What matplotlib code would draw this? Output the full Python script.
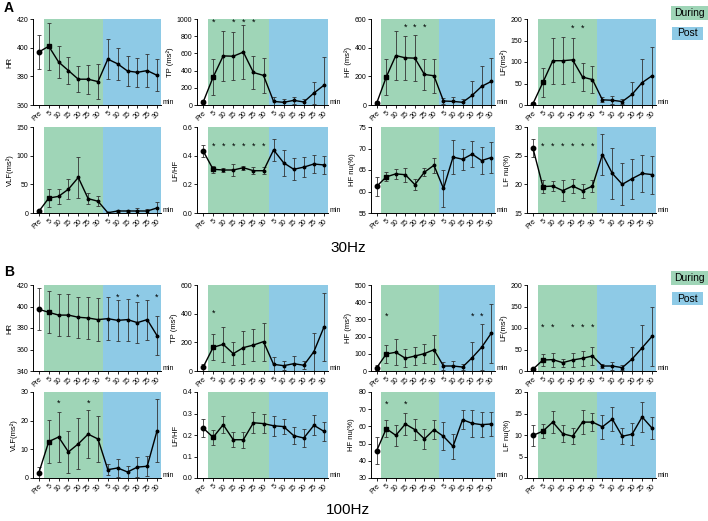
import numpy as np
import matplotlib
matplotlib.use('Agg')
import matplotlib.pyplot as plt
from matplotlib.patches import Rectangle

plt.rcParams['font.family'] = ['Liberation Sans', 'DejaVu Sans']

# x categories (13 time points)
xlabels = ['Pre', '5', '10', '15', '20', '25', '30', '5', '10', '15', '20', '25', '30']

# ---- 30Hz (A) ----
a_hr = [397, 401, 390, 384, 378, 378, 376.3, 392, 388.7, 383.7, 382.8, 384, 380.7]
a_hr_sd = [12, 16.5, 11, 9.2, 9, 10.2, 12.4, 13.8, 11.3, 10.5, 10, 11.5, 11.2]
a_tp = [31, 324, 571, 567, 615, 378, 344, 42, 31, 54, 35, 139, 230]
a_tp_sd = [30, 210, 290, 280, 312, 187, 200, 50, 35, 42, 30, 126, 330]
a_hf = [14, 195, 345, 329, 327, 213, 204, 28, 25, 19, 67, 130, 164]
a_hf_sd = [15, 125, 170, 155, 162, 110, 120, 22, 28, 22, 100, 140, 165]
a_lf = [3, 52.5, 103, 103, 105, 65, 59, 12, 11, 8, 25, 52, 68]
a_lf_sd = [4, 33, 53, 54, 51, 33, 32, 6, 9, 6, 28, 55, 67]
a_vlf = [3, 26, 29, 41.6, 62, 25, 20.5, 0.5, 3.5, 3.5, 3.5, 3.5, 8.8]
a_vlf_sd = [1, 15.5, 13.5, 17.5, 35, 9.5, 9, 0.5, 2.5, 2, 5, 4, 10]
a_lfhf = [0.434, 0.305, 0.300, 0.300, 0.316, 0.295, 0.295, 0.44, 0.35, 0.305, 0.32, 0.342, 0.335]
a_lfhf_sd = [0.04, 0.023, 0.017, 0.04, 0.015, 0.024, 0.025, 0.075, 0.09, 0.076, 0.068, 0.064, 0.066]
a_hfnu = [61.2, 63.4, 64.1, 63.9, 61.6, 64.5, 66.1, 60.7, 68, 67.5, 68.7, 67.2, 67.9]
a_hfnu_sd = [2.25, 1.05, 1.15, 1.65, 1.25, 1.0, 1.8, 4.2, 4.0, 2.5, 3.1, 3.05, 3.7]
a_lfnu = [26.3, 19.6, 19.7, 18.9, 19.7, 18.9, 19.7, 25.2, 21.9, 20.0, 21.0, 21.9, 21.7]
a_lfnu_sd = [1.6, 1.15, 0.9, 1.85, 1.25, 1.2, 1.0, 3.5, 4.5, 3.65, 3.5, 3.15, 3.3]

# ---- 100Hz (B) ----
b_hr = [397.4, 394.6, 392, 392, 390, 389.3, 387.8, 388.7, 387.1, 387.8, 385, 387.8, 372.9]
b_hr_sd = [19.4, 19.5, 19.5, 19.5, 19, 19.2, 19.7, 19.7, 19, 19.5, 19.1, 18.5, 18.1]
b_tp = [25.6, 165, 186, 121, 163, 181, 205, 46.5, 37, 51, 40, 135, 307]
b_tp_sd = [24, 90, 120, 82, 114, 110, 133, 48, 30, 52, 27, 132, 240]
b_hf = [19, 99, 109, 74, 87, 101, 124, 29, 29, 23, 77, 138, 219]
b_hf_sd = [16, 53, 75, 52, 54, 56, 86, 24, 30, 20, 90, 135, 172]
b_lf = [4, 25.6, 26.4, 19.4, 25.6, 29.5, 35, 11.6, 11.6, 7.8, 28, 54, 80.6]
b_lf_sd = [4, 13.5, 16, 9, 16, 18, 20.5, 5.5, 10, 6.3, 27, 54, 68]
b_vlf = [1.9, 12.7, 14.3, 9.1, 11.9, 15.3, 13.6, 2.9, 3.5, 2.1, 3.8, 4.1, 16.5]
b_vlf_sd = [1.8, 7.4, 8.7, 7.3, 8.9, 8.4, 8, 2, 3.1, 2, 3.6, 3.5, 11]
b_lfhf = [0.233, 0.189, 0.248, 0.178, 0.178, 0.257, 0.253, 0.243, 0.239, 0.197, 0.186, 0.245, 0.217]
b_lfhf_sd = [0.042, 0.035, 0.039, 0.035, 0.038, 0.048, 0.043, 0.047, 0.036, 0.04, 0.043, 0.047, 0.043]
b_hfnu = [45.9, 58.7, 54.8, 61.4, 58.1, 52.7, 58.1, 54.2, 48.4, 63.9, 61.8, 61, 61.4]
b_hfnu_sd = [7.7, 4.8, 6.3, 6.3, 6, 5.8, 5.6, 8.2, 7.2, 5.7, 7.7, 7.2, 7.1]
b_lfnu = [9.9, 10.9, 13, 10.3, 9.7, 13, 13, 11.9, 13.7, 9.7, 10.2, 14.2, 11.6]
b_lfnu_sd = [2.45, 1.55, 2.5, 2.0, 1.85, 2.85, 2.1, 2.85, 2.75, 1.9, 2.5, 3.4, 2.5]

GREEN = '#9fd5b7'
BLUE = '#8ecae6'

W, H = 708, 521
fig = plt.figure(figsize=(W / 100, H / 100), dpi=100)

cols = [(33, 161), (197, 328), (371, 495), (527, 656)]
rows = [(19, 105), (127, 213), (285, 371), (392, 478)]


def make_ax(r, c):
    x0, x1 = cols[c]
    y0, y1 = rows[r]
    return fig.add_axes([x0 / W, 1 - y1 / H, (x1 - x0) / W, (y1 - y0) / H])


def panel(ax, mean, sd, ylim, yticks, ylabel, stars=(), star_y=None):
    x = np.arange(len(mean))
    ax.axvspan(0.5, 6.5, color=GREEN, lw=0, zorder=0)
    ax.axvspan(6.5, 12.4, color=BLUE, lw=0, zorder=0)
    ax.errorbar(x, mean, yerr=sd, fmt='none', ecolor='#333333', elinewidth=0.6,
                capsize=1.5, capthick=0.6, zorder=2)
    ax.plot(x, mean, color='black', lw=1.0, zorder=3)
    ax.plot(x[0], mean[0], 'o', color='black', ms=3.2, zorder=4)
    ax.plot(x[1], mean[1], 's', color='black', ms=3.4, zorder=4)
    ax.plot(x[2:], mean[2:], 'o', color='black', ms=1.8, zorder=4)
    for i in stars:
        ax.text(i, star_y, '*', ha='center', va='center', fontsize=6.5, zorder=5)
    ax.set_xlim(-0.6, 12.4)
    ax.set_ylim(*ylim)
    ax.set_yticks(yticks)
    ax.set_xticks(x)
    ax.set_xticklabels(xlabels, rotation=45, ha='right', rotation_mode='anchor')
    ax.tick_params(labelsize=5, length=2, width=0.6, pad=1.5)
    ax.set_ylabel(ylabel, fontsize=5.5, labelpad=2)
    for s in ['top', 'right']:
        ax.spines[s].set_visible(False)
    for s in ['left', 'bottom']:
        ax.spines[s].set_linewidth(0.7)
    ax.text(1.01, 0.03, 'min', transform=ax.transAxes, fontsize=5, ha='left', va='center')


ax = make_ax(0, 0); panel(ax, a_hr, a_hr_sd, (360, 420), [360, 380, 400, 420], 'HR')
ax = make_ax(0, 1); panel(ax, a_tp, a_tp_sd, (0, 1000), range(0, 1001, 200), 'TP (ms²)', [1, 3, 4, 5], 965)
ax = make_ax(0, 2); panel(ax, a_hf, a_hf_sd, (0, 600), range(0, 601, 200), 'HF (ms²)', [3, 4, 5], 545)
ax = make_ax(0, 3); panel(ax, a_lf, a_lf_sd, (0, 200), range(0, 201, 50), 'LF(ms²)', [4, 5], 178)
ax = make_ax(1, 0); panel(ax, a_vlf, a_vlf_sd, (0, 150), range(0, 151, 50), 'VLF(ms²)')
ax = make_ax(1, 1); panel(ax, a_lfhf, a_lfhf_sd, (0, 0.6), [0.0, 0.2, 0.4, 0.6], 'LF/HF', range(1, 7), 0.467)
ax.set_yticklabels(['0.0', '0.2', '0.4', '0.6'])
ax = make_ax(1, 2); panel(ax, a_hfnu, a_hfnu_sd, (55, 75), range(55, 76, 5), 'HF nu(%)')
ax = make_ax(1, 3); panel(ax, a_lfnu, a_lfnu_sd, (15, 30), range(15, 31, 5), 'LF nu(%)', range(1, 7), 26.6)

ax = make_ax(2, 0); panel(ax, b_hr, b_hr_sd, (340, 420), range(340, 421, 20), 'HR', [8, 10, 12], 409)
ax = make_ax(2, 1); panel(ax, b_tp, b_tp_sd, (0, 600), range(0, 601, 200), 'TP (ms²)', [1], 405)
ax = make_ax(2, 2); panel(ax, b_hf, b_hf_sd, (0, 500), range(0, 501, 100), 'HF (ms²)', [1, 10, 11], 318)
ax = make_ax(2, 3); panel(ax, b_lf, b_lf_sd, (0, 200), range(0, 201, 50), 'LF(ms²)', [1, 2, 4, 5, 6], 102)
ax = make_ax(3, 0); panel(ax, b_vlf, b_vlf_sd, (0, 30), range(0, 31, 10), 'VLF(ms²)', [2, 5], 26)
ax = make_ax(3, 1); panel(ax, b_lfhf, b_lfhf_sd, (0, 0.4), [0.0, 0.1, 0.2, 0.3, 0.4], 'LF/HF')
ax.set_yticklabels(['0.0', '0.1', '0.2', '0.3', '0.4'])
ax = make_ax(3, 2); panel(ax, b_hfnu, b_hfnu_sd, (30, 80), range(30, 81, 10), 'HF nu(%)', [1, 3], 73)
ax = make_ax(3, 3); panel(ax, b_lfnu, b_lfnu_sd, (0, 20), range(0, 21, 5), 'LF nu(%)')

# panel letters and frequency captions
fig.text(4 / W, 1 - 8 / H, 'A', fontsize=10, fontweight='bold', va='center', ha='left')
fig.text(4 / W, 1 - 272 / H, 'B', fontsize=10, fontweight='bold', va='center', ha='left')
fig.text(348 / W, 1 - 248 / H, '30Hz', fontsize=11, va='center', ha='center')
fig.text(348 / W, 1 - 510 / H, '100Hz', fontsize=11, va='center', ha='center')

# legend boxes (During / Post) for both sections
for top in (6, 271):
    fig.patches.append(Rectangle((671 / W, 1 - (top + 14) / H), 37 / W, 14 / H,
                                 transform=fig.transFigure, color=GREEN, lw=0))
    fig.text(689.5 / W, 1 - (top + 7) / H, 'During', fontsize=7.5, ha='center', va='center')
    fig.patches.append(Rectangle((672 / W, 1 - (top + 34) / H), 31 / W, 13 / H,
                                 transform=fig.transFigure, color=BLUE, lw=0))
    fig.text(687.5 / W, 1 - (top + 27.5) / H, 'Post', fontsize=7.5, ha='center', va='center')

fig.savefig('out.png', dpi=100)
